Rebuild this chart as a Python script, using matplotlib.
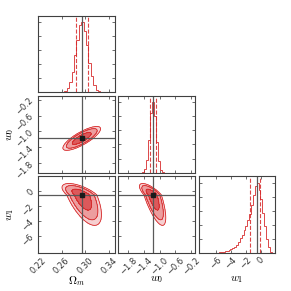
import numpy as np
import matplotlib
matplotlib.use("Agg")
import matplotlib.pyplot as plt
from matplotlib.ticker import MaxNLocator

plt.rcParams["mathtext.fontset"] = "cm"

#------------------Data------------------#
labels = [r"$\Omega_m$", r"$w_0$", r"$w_1$"]
ranges = [(0.22, 0.35), (-2.05, -0.10), (-8.3, 2.0)]
truths = [0.294, -1.18, -0.5]

omega_ticks = [0.22, 0.26, 0.30, 0.34]
w0_ticks = [-1.8, -1.4, -1.0, -0.6, -0.2]
w1_ticks = [-6, -4, -2, 0]

# 16% and 84% quantiles (dashed lines)
omega_q = [0.284, 0.304]
w0_q = [-1.257, -1.096]
w1_q = [-1.45, -0.05]

# histogram heights, relative to the peak bin
omega_counts = [0, 0, 0, 0, 0, 0, 0, 0, 0, 0.002, 0.006, 0.021, 0.057, 0.15,
                0.29, 0.53, 0.75, 0.96, 1.0, 0.87, 0.67, 0.41, 0.23, 0.10,
                0.04, 0.013, 0.004, 0.001, 0, 0, 0, 0]
w0_counts = [0, 0, 0, 0, 0, 0, 0, 0, 0, 0, 0, 0.001, 0.008, 0.046, 0.18,
             0.47, 0.84, 1.0, 0.81, 0.44, 0.16, 0.041, 0.007, 0.001, 0, 0,
             0, 0, 0, 0, 0, 0, 0, 0, 0, 0, 0, 0, 0]
w1_counts = [0, 0, 0, 0, 0, 0, 0, 0, 0.002, 0.004, 0.006, 0.009, 0.013,
             0.018, 0.025, 0.035, 0.045, 0.058, 0.073, 0.09, 0.12, 0.16,
             0.21, 0.26, 0.32, 0.39, 0.47, 0.56, 0.68, 0.82, 0.95, 1.0,
             0.90, 0.76, 0.57, 0.38, 0.20, 0.08, 0.02, 0.003, 0]

# 2D contour shapes:
# x spread, y spread below centre, y spread above centre, correlation
omega_w0_shape = [0.0105, 0.10, 0.10, 0.80]
omega_w1_shape = [0.0110, 1.35, 0.50, -0.65]
w0_w1_shape = [0.11, 1.35, 0.50, -0.75]

# enclosed probability of the contours
levels = [0.683, 0.954, 0.99]

all_ticks = [omega_ticks, w0_ticks, w1_ticks]
all_q = [omega_q, w0_q, w1_q]
all_counts = [omega_counts, w0_counts, w1_counts]
shapes = {(1, 0): omega_w0_shape, (2, 0): omega_w1_shape, (2, 1): w0_w1_shape}

color = "#d62728"
truth_color = "0.35"


#------------------Helpers------------------#
def quad_form(i, j, n=300):
    # Mahalanobis distance on a grid, split spread along y
    sx, sy_lo, sy_hi, r = shapes[(i, j)]
    gx = np.linspace(ranges[j][0], ranges[j][1], n)
    gy = np.linspace(ranges[i][0], ranges[i][1], n)
    X, Y = np.meshgrid(gx, gy)
    u = (X - truths[j]) / sx
    dy = Y - truths[i]
    v = np.where(dy < 0, dy / sy_lo, dy / sy_hi)
    Q = (u ** 2 - 2 * r * u * v + v ** 2) / (1 - r ** 2)
    return gx, gy, Q


def style_axes(ax):
    ax.tick_params(direction="in", top=True, right=True, length=2.2,
                   width=0.5, labelsize=6, pad=2, colors="0.2")
    for s in ax.spines.values():
        s.set_linewidth(0.8)
        s.set_color("0.25")


#------------------Figure------------------#
fig = plt.figure(figsize=(2.91, 2.91), dpi=100)
left, size, gap = 0.1306, 0.264, 0.012

for i in range(3):
    for j in range(i + 1):
        x0 = left + j * (size + gap)
        y0 = left + (2 - i) * (size + gap)
        ax = fig.add_axes([x0, y0, size, size])
        style_axes(ax)

        if i == j:
            counts = all_counts[i]
            edges = np.linspace(ranges[i][0], ranges[i][1], len(counts) + 1)
            ax.hist(edges[:-1], bins=edges, weights=counts, histtype="step",
                    color=color, lw=0.7, alpha=0.85)
            for q in all_q[i]:
                ax.axvline(q, color=color, ls="--", lw=0.8, alpha=0.85)
            ax.axvline(truths[i], color=truth_color, lw=0.9)
            ax.set_ylim(0, 1.09 * max(counts))
            ax.yaxis.set_major_locator(MaxNLocator(6))
            ax.set_yticklabels([])
        else:
            gx, gy, Q = quad_form(i, j)
            V = [0] + [-2 * np.log(1 - p) for p in levels]
            fills = [(0.82, 0.13, 0.14, 0.75), (0.84, 0.15, 0.16, 0.45),
                     (0.84, 0.15, 0.16, 0.22)]
            ax.contourf(gx, gy, Q, V, colors=fills)
            ax.contour(gx, gy, Q, V[1:], colors=color, linewidths=0.6)
            ax.axvline(truths[j], color=truth_color, lw=0.9)
            ax.axhline(truths[i], color=truth_color, lw=0.9)
            ax.plot(truths[j], truths[i], "s", color="0.1", ms=3)
            ax.set_ylim(ranges[i])
            ax.set_yticks(all_ticks[i])
            if j == 0:
                for t in ax.get_yticklabels():
                    t.set_rotation(45)
                ax.set_ylabel(labels[i], fontsize=8)
                ax.yaxis.set_label_coords(-0.28, 0.5)
            else:
                ax.set_yticklabels([])

        ax.set_xlim(ranges[j])
        ax.set_xticks(all_ticks[j])
        if i == 2:
            for t in ax.get_xticklabels():
                t.set_rotation(45)
            ax.set_xlabel(labels[j], fontsize=8)
            ax.xaxis.set_label_coords(0.5, -0.27)
        else:
            ax.set_xticklabels([])

fig.savefig("out.png", dpi=100)
